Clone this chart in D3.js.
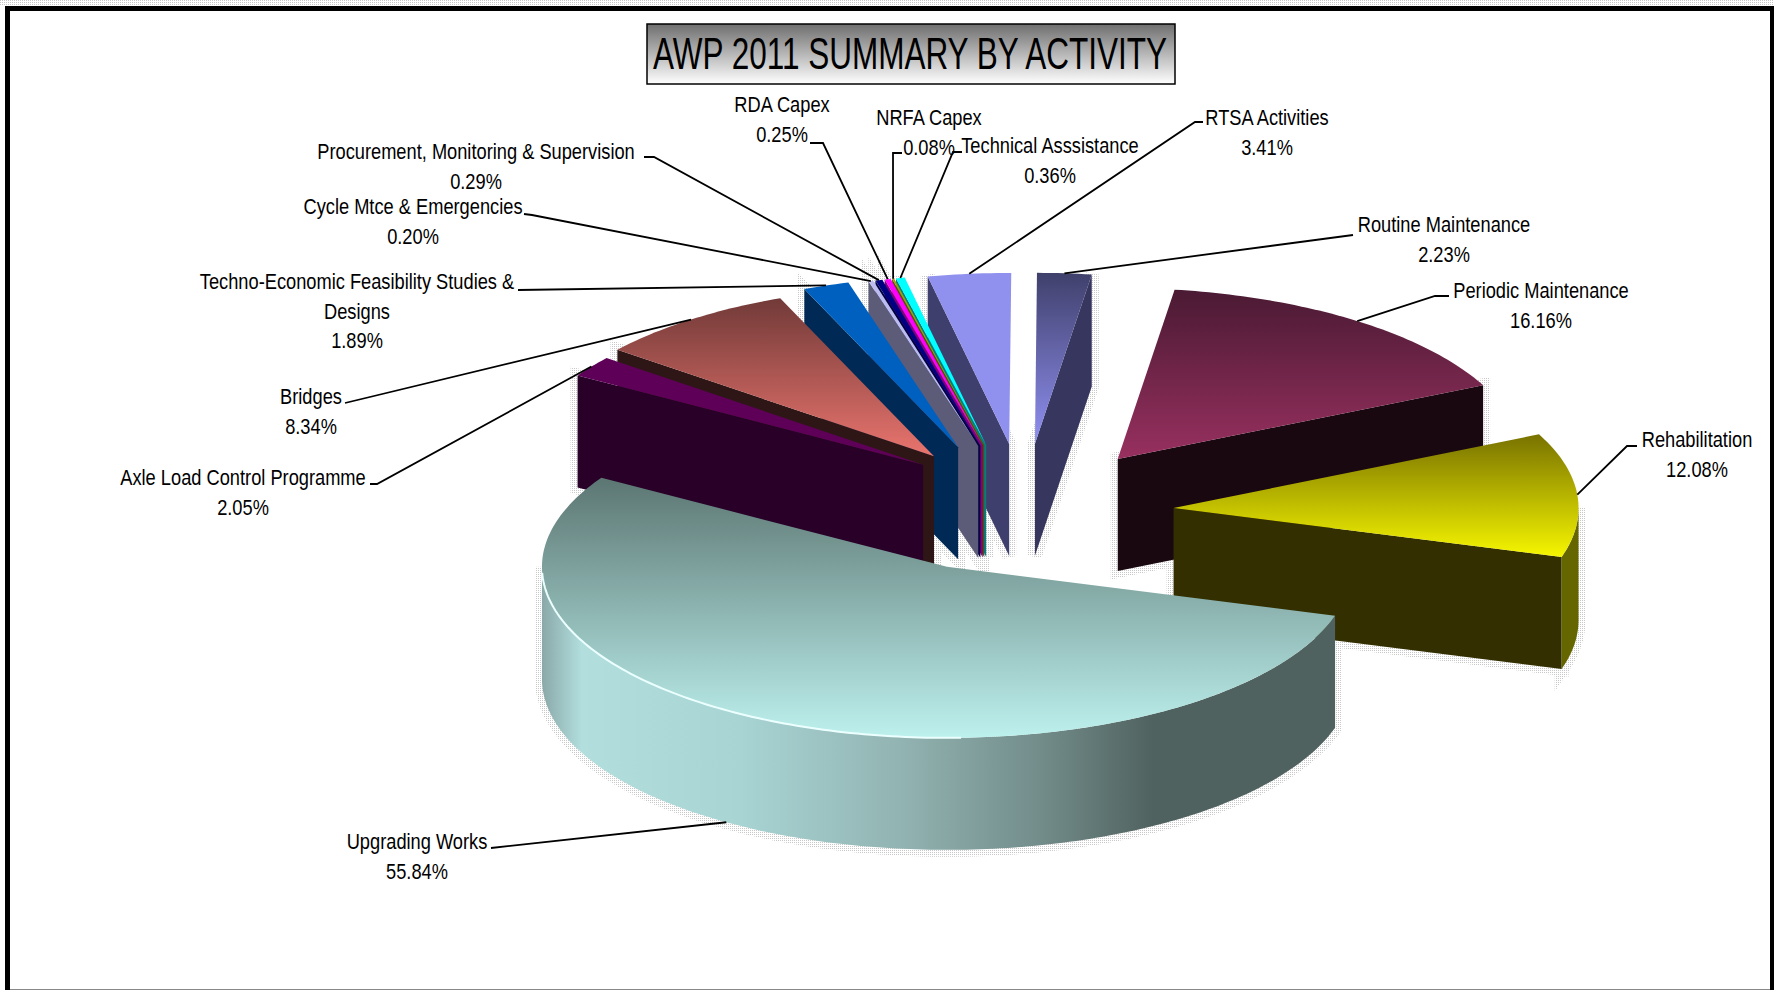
<!DOCTYPE html>
<html>
<head>
<meta charset="utf-8">
<title>AWP 2011 Summary by Activity</title>
<script src="https://cdn.jsdelivr.net/npm/d3@7/dist/d3.min.js"></script>
<style>
  html, body { margin: 0; padding: 0; background: #fff; }
  svg { display: block; }
  text { font-family: "Liberation Sans", Arial, sans-serif; fill: #000; }
</style>
</head>
<body>
<svg id="chart" width="1774" height="990"></svg>
<script>
// Budget shares, clockwise starting from the largest slice.
const categories = [
  "Upgrading Works", "Axle Load Control Programme", "Bridges",
  "Techno-Economic Feasibility  Studies &\nDesigns", "Cycle Mtce & Emergencies",
  "Procurement, Monitoring & Supervision", "RDA Capex", "NRFA Capex",
  "Technical Asssistance", "RTSA Activities", "Routine Maintenance",
  "Periodic Maintenance", "Rehabilitation"
];
const shares = [55.84, 2.05, 8.34, 1.89, 0.20, 0.29, 0.25, 0.08, 0.36, 3.41, 2.23, 16.16, 12.08];

// Face colours per slice: top gradient (rear to front), then the dark radial wall.
const topRear  = ["#5c7672", "#5f0058", "#713a38", "#0060c0", "#bcbcf0", "#000080", "#ff00ff", "#a0a000", "#00ffff", "#9090ee", "#40406c", "#4a1a33", "#787200"];
const topFront = ["#bdf1ee", "#5f0058", "#ea746e", "#0060c0", "#bcbcf0", "#000080", "#ff00ff", "#a0a000", "#00ffff", "#9090ee", "#9090f2", "#98305f", "#f6f600"];
const wallTone = ["#50625f", "#280028", "#2e1616", "#002a55", "#5c5c78", "#000040", "#800080", "#505000", "#008080", "#3f3f6e", "#36365e", "#1a0810", "#332f00"];
const rimTone  = ["#50625f", "#280028", "#2e1616", "#002a55", "#5c5c78", "#000040", "#800080", "#505000", "#008080", "#3f3f6e", "#36365e", "#1a0810", "#666600"];

// Label placement: centre of the first line, where its leader leaves, and an optional elbow.
const labelX = [417, 243, 311, 357, 413, 476, 782, 929, 1050, 1267, 1444, 1541, 1697];
const labelY = [849, 485, 404, 289, 214, 159, 112, 125, 153, 125, 232, 298, 447];
const leaderFrom = [[491, 848], [370, 484], [345, 403], [518, 290], [524, 214], [644, 157], [810, 143], [902, 153], [962, 152], [1203, 122], [1353, 235], [1449, 296], [1637, 446]];
const leaderElbow = [null, [377, 484], null, null, [532, 215], [654, 157], [823, 143], [893, 153], [953, 152], [1195, 122], null, [1435, 296], [1627, 446]];
const leaderTurnDeg = [9, 0, 0, 0, 0, 0, 0, 0, 0, 0, 0, 0, 0];
const lineStep = 29.5;

// Back-to-front painting order, as indexes into the arrays above.
const paintOrder = [10, 9, 8, 7, 6, 5, 4, 3, 2, 1, 11, 12, 0];

// Pie projection.
const pieCentre = { x: 1024, y: 507 };
const radiusX = 405, radiusY = 171, thickness = 112;
const explode = 150;
const startDeg = 16.6;

// Extra pull applied to single slices on top of the common explosion.
const pullX = [-16, 22, 0, -17, -6, -6, -6, -6, -6, 0, 0, 5, 0];
const pullY = [2, -6, 0, 0, 0, 0, 0, 0, 0, 0, 0, 3, 6];

const rad = d => d * Math.PI / 180;
const arcs = d3.pie().sort(null).value(d => d)
  .startAngle(rad(startDeg)).endAngle(rad(startDeg + 360))(shares);

// Angles here run clockwise from three o'clock on the tilted disc.
const slices = arcs.map((a, i) => {
  const mid = (a.startAngle + a.endAngle) / 2;
  return {
    i, t0: a.startAngle, t1: a.endAngle, mid,
    ax: pieCentre.x + explode * Math.cos(mid) + pullX[i],
    ay: pieCentre.y + explode * radiusY / radiusX * Math.sin(mid) + pullY[i]
  };
});

const rim = (s, t, drop = 0) => [s.ax + radiusX * Math.cos(t), s.ay + radiusY * Math.sin(t) + drop];
const line = d3.line();
const arcPoints = (s, a, b, drop = 0) => {
  const n = Math.max(2, Math.ceil(Math.abs(b - a) / rad(1)));
  return d3.range(n + 1).map(k => rim(s, a + (b - a) * k / n, drop));
};
const wedge = s => line([[s.ax, s.ay], ...arcPoints(s, s.t0, s.t1)]) + "Z";
const radialWall = (s, t) => line([[s.ax, s.ay], rim(s, t), rim(s, t, thickness), [s.ax, s.ay + thickness]]) + "Z";

// Front part of the outer rim, when the slice reaches the viewer's side of the disc.
function frontRange(s) {
  const turn = 2 * Math.PI;
  for (const k of [0, -turn, turn]) {
    const a = Math.max(s.t0, k), b = Math.min(s.t1, k + Math.PI);
    if (b > a + 1e-3) return [a, b];
  }
  return null;
}
const rimWall = (s, a, b) => line([...arcPoints(s, a, b), ...arcPoints(s, b, a, thickness)]) + "Z";

const svg = d3.select("#chart");
const defs = svg.append("defs");

const stipple = defs.append("pattern").attr("id", "stipple")
  .attr("width", 2).attr("height", 2).attr("patternUnits", "userSpaceOnUse");
stipple.append("rect").attr("width", 1).attr("height", 1).attr("fill", "#c8c8c8");

slices.forEach(s => {
  const g = defs.append("linearGradient").attr("id", "top" + s.i)
    .attr("x1", 0).attr("y1", 0).attr("x2", 0).attr("y2", 1);
  g.append("stop").attr("offset", 0).attr("stop-color", topRear[s.i]);
  g.append("stop").attr("offset", 1).attr("stop-color", topFront[s.i]);
});

// Shading around the front rim of the largest slice.
const rimStops = [[0, "#8aa8a8"], [0.05, "#b2dede"], [0.25, "#a8d4d4"], [0.45, "#92b4b2"], [0.63, "#728c8a"], [0.77, "#50625f"], [1, "#50625f"]];
const rimGrad = defs.append("linearGradient").attr("id", "rimBig")
  .attr("x1", 0).attr("y1", 0).attr("x2", 1).attr("y2", 0);
rimStops.forEach(([o, c]) => rimGrad.append("stop").attr("offset", o).attr("stop-color", c));

const titleGrad = defs.append("linearGradient").attr("id", "titleFill")
  .attr("x1", 0).attr("y1", 0).attr("x2", 0).attr("y2", 1);
titleGrad.append("stop").attr("offset", 0).attr("stop-color", "#6e6e6e");
titleGrad.append("stop").attr("offset", 1).attr("stop-color", "#ffffff");

// Page frame.
svg.append("rect").attr("x", 0).attr("y", 0).attr("width", 1774).attr("height", 5).attr("fill", "url(#stipple)");
svg.append("rect").attr("x", 5).attr("y", 6).attr("width", 5).attr("height", 984).attr("fill", "#000");
svg.append("rect").attr("x", 5).attr("y", 6).attr("width", 1769).attr("height", 5).attr("fill", "#000");
svg.append("rect").attr("x", 1770).attr("y", 6).attr("width", 4).attr("height", 984).attr("fill", "#000");
svg.append("rect").attr("x", 10).attr("y", 989).attr("width", 1760).attr("height", 1).attr("fill", "#888");

// Title box.
svg.append("rect").attr("x", 647).attr("y", 24).attr("width", 528).attr("height", 60)
  .attr("fill", "url(#titleFill)").attr("stroke", "#000").attr("stroke-width", 1.5);
svg.append("text").attr("x", 653).attr("y", 69)
  .attr("font-size", 44).attr("textLength", 514).attr("lengthAdjust", "spacingAndGlyphs")
  .text("AWP 2011 SUMMARY BY ACTIVITY");

// Stippled halo under the walls, painted first so it stays behind every slice.
const halo = svg.append("g").attr("fill", "none").attr("stroke", "url(#stipple)").attr("stroke-width", 14);
slices.forEach(s => {
  const cosStart = Math.cos(s.t0), cosEnd = Math.cos(s.t1);
  if (cosStart < -0.05) halo.append("path").attr("d", radialWall(s, s.t0));
  if (cosEnd > 0.05) halo.append("path").attr("d", radialWall(s, s.t1));
  const fr = frontRange(s);
  if (fr) halo.append("path").attr("d", rimWall(s, fr[0], fr[1]));
});

// Slices, walls before top face.
const pie = svg.append("g");
paintOrder.forEach(i => {
  const s = slices[i];
  const g = pie.append("g");
  if (Math.cos(s.t0) < -0.05) g.append("path").attr("d", radialWall(s, s.t0)).attr("fill", wallTone[i]);
  if (Math.cos(s.t1) > 0.05) g.append("path").attr("d", radialWall(s, s.t1)).attr("fill", wallTone[i]);
  const fr = frontRange(s);
  if (fr) g.append("path").attr("d", rimWall(s, fr[0], fr[1]))
    .attr("fill", i === 0 ? "url(#rimBig)" : rimTone[i]);
  g.append("path").attr("d", wedge(s)).attr("fill", `url(#top${i})`);
  if (i === 0) {
    g.append("path").attr("d", line(arcPoints(s, rad(88), rad(178))))
      .attr("fill", "none").attr("stroke", "#ecffff").attr("stroke-width", 2);
  }
});

// Leaders run from the label to the slice; front-facing slices meet at the foot of the rim.
const leaders = svg.append("g").attr("fill", "none").attr("stroke", "#000").attr("stroke-width", 1.8);
slices.forEach(s => {
  const front = Math.sin(s.mid) > 0.2;
  const end = rim(s, s.mid + rad(leaderTurnDeg[s.i]), front ? thickness : 0);
  const pts = [leaderFrom[s.i]];
  if (leaderElbow[s.i]) pts.push(leaderElbow[s.i]);
  pts.push(end);
  leaders.append("path").attr("d", line(pts));
});

// Labels: category lines followed by the share.
const labelScale = 0.83;
const labels = svg.append("g").attr("font-size", 22).attr("text-anchor", "middle");
slices.forEach(s => {
  const rows = categories[s.i].split("\n").concat(d3.format(".2f")(shares[s.i]) + "%");
  rows.forEach((row, r) => {
    labels.append("text")
      .attr("transform", `translate(${labelX[s.i]},${labelY[s.i] + r * lineStep}) scale(${labelScale},1)`)
      .text(row);
  });
});
</script>
</body>
</html>
